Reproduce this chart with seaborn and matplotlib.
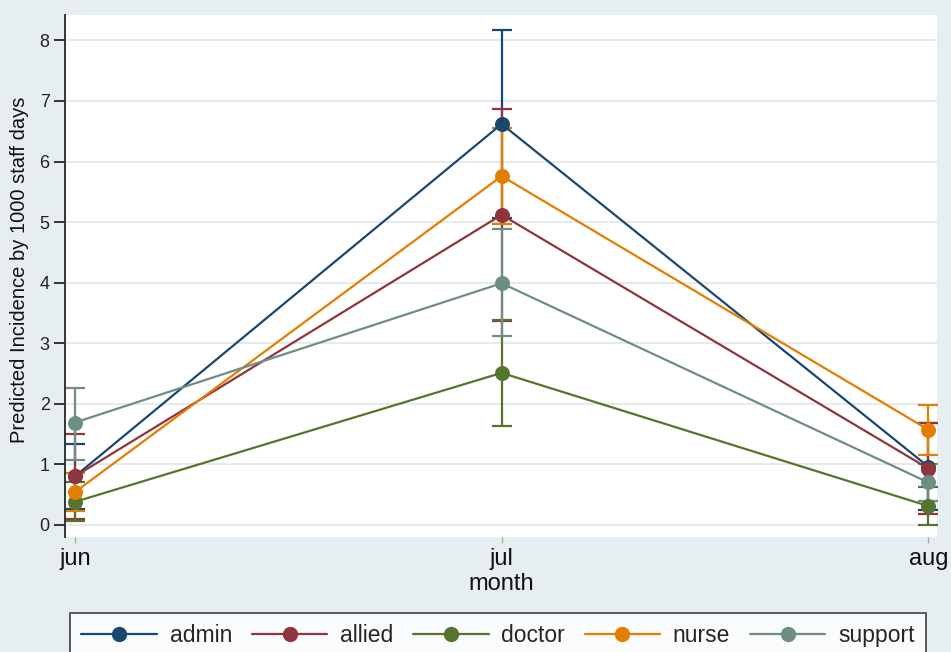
import numpy as np
import pandas as pd
import matplotlib
matplotlib.use("Agg")
import matplotlib.pyplot as plt
from matplotlib.lines import Line2D
import seaborn as sns

months = ["jun", "jul", "aug"]
groups = ["admin", "allied", "doctor", "nurse", "support"]
colors = ["#1a476f", "#90353b", "#55752f", "#e37e00", "#6e8e84"]

admin = [0.80, 6.62, 0.96]
admin_lo = [0.26, 5.06, 0.24]
admin_hi = [1.34, 8.18, 1.68]

allied = [0.80, 5.12, 0.93]
allied_lo = [0.10, 3.37, 0.18]
allied_hi = [1.50, 6.86, 1.68]

doctor = [0.38, 2.51, 0.31]
doctor_lo = [0.07, 1.63, 0.00]
doctor_hi = [0.70, 3.38, 0.62]

nurse = [0.54, 5.76, 1.57]
nurse_lo = [0.23, 4.97, 1.16]
nurse_hi = [0.86, 6.55, 1.98]

support = [1.69, 3.99, 0.70]
support_lo = [1.07, 3.12, 0.40]
support_hi = [2.26, 4.88, 1.00]

vals = {"admin": admin, "allied": allied, "doctor": doctor, "nurse": nurse, "support": support}
los = {"admin": admin_lo, "allied": allied_lo, "doctor": doctor_lo, "nurse": nurse_lo, "support": support_lo}
his = {"admin": admin_hi, "allied": allied_hi, "doctor": doctor_hi, "nurse": nurse_hi, "support": support_hi}

rows = []
for g in groups:
    for i, m in enumerate(months):
        rows.append({"group": g, "pos": i, "month": m, "value": vals[g][i],
                     "lo": los[g][i], "hi": his[g][i]})
df = pd.DataFrame(rows)

sns.set_theme(style="white")
plt.rcParams["font.family"] = ["Liberation Sans", "DejaVu Sans"]

bg = "#e7eef2"
fig = plt.figure(figsize=(9.51, 6.52), dpi=100, facecolor=bg)
ax = fig.add_axes([65/951, 1-537/652, (937-65)/951, (537-15)/652])
ax.set_facecolor("white")

for g, c in zip(groups, colors):
    d = df[df["group"] == g]
    ax.errorbar(d["pos"], d["value"], yerr=[d["value"] - d["lo"], d["hi"] - d["value"]],
                fmt="none", ecolor=c, elinewidth=1.6, capsize=7, capthick=1.6, zorder=2)
    sns.lineplot(data=d, x="pos", y="value", color=c, marker="o", markersize=10,
                 markeredgecolor=c, linewidth=1.6, ax=ax, zorder=3, legend=False)

ax.set_xlim(-0.023, 2.02)
ax.set_ylim(-0.2, 8.42)
ax.set_yticks(range(0, 9))
ax.set_yticklabels([str(i) for i in range(0, 9)], fontsize=13, color="#222222")
ax.set_xticks([0, 1, 2])
ax.set_xticklabels(months, fontsize=17, color="#111111")
ax.yaxis.grid(True, color="#e6eaec", linewidth=1.4)
ax.xaxis.grid(False)
for s in ["top", "right", "bottom"]:
    ax.spines[s].set_visible(False)
ax.spines["left"].set_color("#333333")
ax.spines["left"].set_linewidth(1.4)
ax.tick_params(axis="y", direction="out", length=8, width=1.4, color="#333333", pad=3, left=True)
ax.tick_params(axis="x", direction="out", length=4, width=1, color="#aaaaaa", pad=4, bottom=True)
ax.set_xlabel("month", fontsize=17, color="#111111")
ax.xaxis.set_label_coords(0.5, (537 - 573) / 522)
ax.set_ylabel("Predicted Incidence by 1000 staff days", fontsize=14.5, color="#111111")
ax.yaxis.set_label_coords((29 - 65) / 872, (537 - 270) / 522)

handles = [Line2D([0], [0], color=c, marker="o", markersize=10, linewidth=1.6) for c in colors]
leg = fig.legend(handles, groups, loc="upper left", ncol=5,
                 bbox_to_anchor=(70/951, 1-613/652, (926-70)/951, 0.0), mode="expand",
                 borderaxespad=0, fontsize=16.5, frameon=True, fancybox=False,
                 handlelength=3.3, borderpad=0.5, columnspacing=1.0, handletextpad=0.55)
leg.get_frame().set_edgecolor("#333333")
leg.get_frame().set_linewidth(1.4)
leg.get_frame().set_facecolor("white")

fig.savefig("out.png", dpi=100, facecolor=bg)
